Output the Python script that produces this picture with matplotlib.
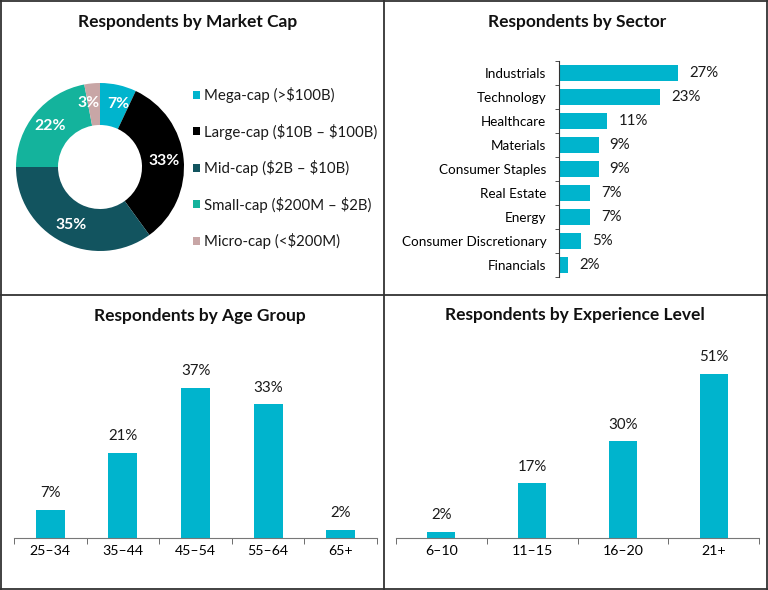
import numpy as np
import matplotlib
matplotlib.use("Agg")
from matplotlib import pyplot as plt
from matplotlib.lines import Line2D
from matplotlib.patches import Patch

plt.rcParams['font.family'] = ['Lato', 'DejaVu Sans']
plt.rcParams['text.color'] = '#1a1a1a'

# Data
cap_labels = ['Mega-cap (>\\$100B)', 'Large-cap (\\$10B \u2013 \\$100B)', 'Mid-cap (\\$2B \u2013 \\$10B)',
              'Small-cap (\\$200M \u2013 \\$2B)', 'Micro-cap (<\\$200M)']
cap_values = [7, 33, 35, 22, 3]
cap_colors = ['#00B4CD', '#000000', '#12545F', '#14B39C', '#C8A6A6']

sectors = ['Industrials', 'Technology', 'Healthcare', 'Materials', 'Consumer Staples',
           'Real Estate', 'Energy', 'Consumer Discretionary', 'Financials']
sector_values = [27, 23, 11, 9, 9, 7, 7, 5, 2]

age_groups = ['25\u201334', '35\u201344', '45\u201354', '55\u201364', '65+']
age_values = [7, 21, 37, 33, 2]

exp_levels = ['6\u201310', '11\u201315', '16\u201320', '21+']
exp_values = [2, 17, 30, 51]

BAR = '#00B4CD'
W, H = 768, 590
fig = plt.figure(figsize=(W / 100, H / 100), dpi=100)


def box(x0, y0, x1, y1):
    # pixel box (top-left origin) -> figure fraction
    return [x0 / W, 1 - y1 / H, (x1 - x0) / W, (y1 - y0) / H]


# frame + dividers
for xs, ys in [([0, W], [1, 1]), ([0, W], [H - 1, H - 1]), ([1, 1], [0, H]), ([W - 1, W - 1], [0, H]),
               ([384, 384], [0, H]), ([0, W], [295, 295])]:
    fig.add_artist(Line2D([x / W for x in xs], [1 - y / H for y in ys], color='#333333', lw=1.3))

title_kw = dict(fontsize=12.5, fontweight='bold', ha='center', va='center', color='#111111')
fig.text(188 / W, 1 - 22 / H, 'Respondents by Market Cap', **title_kw)
fig.text(577 / W, 1 - 22 / H, 'Respondents by Sector', **title_kw)
fig.text(200 / W, 1 - 316 / H, 'Respondents by Age Group', **title_kw)
fig.text(575 / W, 1 - 315 / H, 'Respondents by Experience Level', **title_kw)

# --- Donut
ax1 = fig.add_axes(box(16, 83, 184, 251))
wedges, _, autotexts = ax1.pie(cap_values, colors=cap_colors, startangle=90, counterclock=False,
                               radius=1, autopct='%d%%', pctdistance=0.77,
                               wedgeprops=dict(width=0.5, edgecolor='none'))
for t in autotexts:
    t.set_color('white')
    t.set_fontweight('bold')
    t.set_fontsize(11.3)
# the two thin slices sit side by side at the top; spread their labels a little
autotexts[0].set_x(autotexts[0].get_position()[0] + 0.05)
autotexts[4].set_x(autotexts[4].get_position()[0] - 0.06)
ax1.set_xlim(-1, 1)
ax1.set_ylim(-1, 1)
ax1.set_aspect('equal')
handles = [Patch(facecolor=c, edgecolor='none') for c in cap_colors]
fig.legend(handles, cap_labels, loc='upper left', bbox_to_anchor=(193 / W, 1 - 87 / H),
           frameon=False, fontsize=10.8, handlelength=0.45, handleheight=0.45,
           handletextpad=0.3, labelspacing=1.37, borderaxespad=0, borderpad=0)

# --- Sector horizontal bars
ax2 = fig.add_axes(box(559, 61, 720, 277))
y = np.arange(len(sectors))
ax2.barh(y, sector_values, height=0.68, color=BAR)
ax2.set_ylim(len(sectors) - 0.5, -0.5)
ax2.set_xlim(0, 161 / 4.4)
ax2.set_yticks(y)
ax2.set_yticklabels(sectors, fontsize=9.7)
ax2.set_yticks(np.arange(len(sectors) + 1) - 0.5, minor=True)
ax2.tick_params(axis='y', which='major', length=0, pad=9)
ax2.tick_params(axis='y', which='minor', length=3, color='#333333')
ax2.set_xticks([])
for s in ['top', 'right', 'bottom']:
    ax2.spines[s].set_visible(False)
ax2.spines['left'].set_color('#333333')
for yi, v in zip(y, sector_values):
    ax2.annotate(f'{v}%', (v, yi), xytext=(8, 0), textcoords='offset points',
                 va='center', ha='left', fontsize=10.8)


def column_panel(rect, cats, vals, width, px_per):
    ax = fig.add_axes(rect)
    x = np.arange(len(cats))
    ax.bar(x, vals, width=width, color=BAR)
    ax.set_xlim(-0.5, len(cats) - 0.5)
    ax.set_ylim(0, 200 / px_per)
    ax.set_yticks([])
    ax.set_xticks(x)
    ax.set_xticklabels(cats, fontsize=10.2)
    ax.set_xticks(np.arange(len(cats) + 1) - 0.5, minor=True)
    ax.tick_params(axis='x', which='major', length=0, pad=5)
    ax.tick_params(axis='x', which='minor', length=4, color='#555555')
    for s in ['top', 'right', 'left']:
        ax.spines[s].set_visible(False)
    ax.spines['bottom'].set_color('#777777')
    for xi, v in zip(x, vals):
        ax.annotate(f'{v}%', (xi, v), xytext=(0, 7), textcoords='offset points',
                    ha='center', va='bottom', fontsize=10.8)
    return ax


column_panel(box(14, 338, 377, 538), age_groups, age_values, 0.4, 4.05)
column_panel(box(396, 338, 759, 538), exp_levels, exp_values, 0.31, 3.22)

fig.savefig('out.png', dpi=100)
